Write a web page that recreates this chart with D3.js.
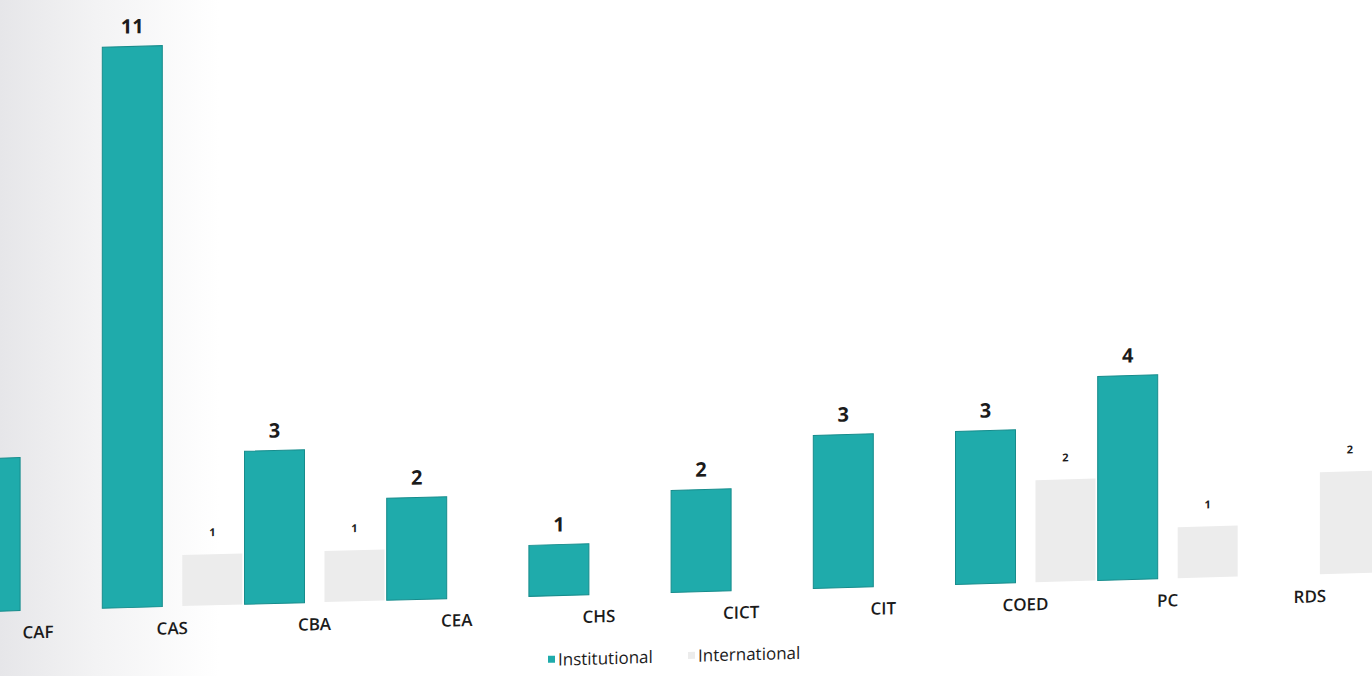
<!DOCTYPE html>
<html>
<head>
<meta charset="utf-8">
<script src="https://cdn.jsdelivr.net/npm/d3@7"></script>
<style>
  body { margin: 0; background: #fff; }
  svg { display: block; }
</style>
</head>
<body>
<div id="chart"></div>
<script>
var categories = ["CAF", "CAS", "CBA", "CEA", "CHS", "CICT", "CIT", "COED", "PC", "RDS"];
var institutional = [3, 11, 3, 2, 1, 2, 3, 3, 4, 0];
var international = [0, 1, 1, 0, 0, 0, 0, 2, 1, 2];
var seriesNames = ["Institutional", "International"];
var seriesColors = ["#1fabab", "#ececec"];

var width = 1372, height = 676;
var baseline = 592;

var rows = categories.map(function (c, i) {
    return { cat: c, values: [institutional[i], international[i]] };
});

var svg = d3.select("#chart")
    .append("svg")
    .attr("width", width)
    .attr("height", height);

// faint paper shading on the left edge
var grad = svg.append("defs").append("linearGradient")
    .attr("id", "paper").attr("x1", "0").attr("x2", "1");
grad.append("stop").attr("offset", "0").attr("stop-color", "#e6e6e9");
grad.append("stop").attr("offset", "0.07").attr("stop-color", "#f3f3f4");
grad.append("stop").attr("offset", "0.16").attr("stop-color", "#ffffff");
svg.append("rect").attr("width", width).attr("height", height).attr("fill", "url(#paper)");

// the photographed page is slightly tilted: skew so the baseline rises to the right
var g = svg.append("g")
    .attr("transform", "translate(" + width / 2 + "," + baseline + ") skewY(-1.6) translate(" + (-width / 2) + "," + (-baseline) + ")");

var x0 = d3.scaleBand()
    .domain(categories)
    .range([-41, 1381]);

var x1 = d3.scaleBand()
    .domain(seriesNames)
    .range([x0.bandwidth() / 2 - 80, x0.bandwidth() / 2 + 80]);

var y = d3.scaleLinear()
    .domain([0, 11])
    .range([baseline, baseline - 561]);

var color = d3.scaleOrdinal().domain(seriesNames).range(seriesColors);
var barW = 60;

var group = g.selectAll(".group")
    .data(rows)
    .enter()
    .append("g")
    .attr("class", "group")
    .attr("transform", function (d) { return "translate(" + x0(d.cat) + ",0)"; });

var bars = group.selectAll(".bar")
    .data(function (d) {
        return seriesNames.map(function (s, k) { return { key: s, value: d.values[k] }; });
    })
    .enter()
    .filter(function (d) { return d.value > 0; });

bars.append("rect")
    .attr("x", function (d) { return x1(d.key) + x1.bandwidth() / 2 - barW / 2; })
    .attr("y", function (d) { return y(d.value); })
    .attr("width", barW)
    .attr("height", function (d) { return y(0) - y(d.value); })
    .attr("fill", function (d) { return color(d.key); })
    .attr("stroke", function (d) { return d.key === "Institutional" ? "#178c8c" : "none"; })
    .attr("stroke-width", 1);

bars.append("text")
    .attr("x", function (d) { return x1(d.key) + x1.bandwidth() / 2; })
    .attr("y", function (d) { return y(d.value) - (d.key === "Institutional" ? 13 : 18); })
    .attr("text-anchor", "middle")
    .attr("font-family", "'Open Sans', sans-serif")
    .attr("font-weight", 700)
    .attr("font-size", function (d) { return d.key === "Institutional" ? 20 : 11; })
    .attr("fill", "#1b1b1b")
    .text(function (d) { return d.value; });

// category labels under each group
g.selectAll(".cat")
    .data(categories)
    .enter()
    .append("text")
    .attr("class", "cat")
    .attr("x", function (d) { return x0(d) + x0.bandwidth() / 2 + (d === "CAF" ? 8 : 0); })
    .attr("y", baseline + 28)
    .attr("text-anchor", "middle")
    .attr("font-family", "'Open Sans', sans-serif")
    .attr("font-weight", 600)
    .attr("font-size", 17)
    .attr("fill", "#1b1b1b")
    .text(function (d) { return d; });

// legend
var legend = g.append("g").attr("transform", "translate(548," + (baseline + 70) + ")");
var item = legend.selectAll(".item")
    .data(seriesNames)
    .enter()
    .append("g")
    .attr("transform", function (d, i) { return "translate(" + i * 140 + ",0)"; });
item.append("rect")
    .attr("x", 0).attr("y", -10)
    .attr("width", 7).attr("height", 7)
    .attr("fill", function (d) { return color(d); });
item.append("text")
    .attr("x", 10)
    .attr("y", 0)
    .attr("font-family", "'Open Sans', sans-serif")
    .attr("font-weight", 500)
    .attr("font-size", 17)
    .attr("fill", "#1b1b1b")
    .text(function (d) { return d; });
</script>
</body>
</html>
